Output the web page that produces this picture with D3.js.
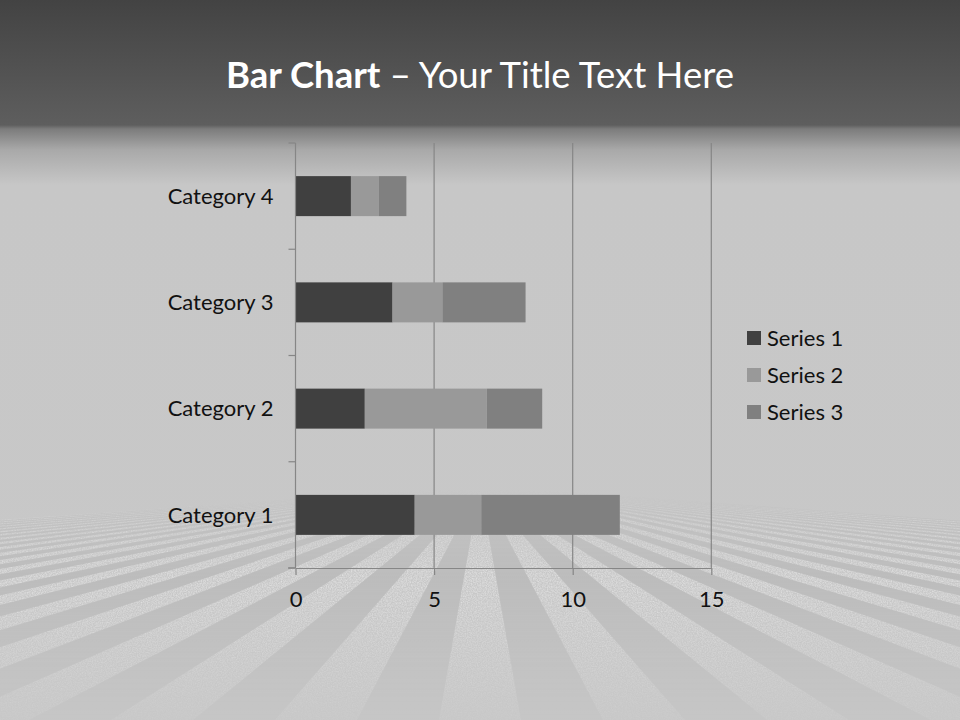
<!DOCTYPE html>
<html><head><meta charset="utf-8">
<script src="https://cdn.jsdelivr.net/npm/d3@7"></script>
<style>html,body{margin:0;padding:0;background:#c8c8c8;}svg{display:block;}</style>
</head><body>
<svg id="chart" width="960" height="720"></svg>
<script>
const categories = ["Category 1", "Category 2", "Category 3", "Category 4"];
const seriesNames = ["Series 1", "Series 2", "Series 3"];
const series1 = [4.3, 2.5, 3.5, 2];
const series2 = [2.4, 4.4, 1.8, 1];
const series3 = [5, 2, 3, 1];
const xTicks = [0, 5, 10, 15];
const colors = ["#404040", "#999999", "#808080"];

const W = 960, H = 720;
const svg = d3.select("#chart");
const defs = svg.append("defs");

// background gradient
const bg = defs.append("linearGradient").attr("id","bg").attr("x1",0).attr("y1",0).attr("x2",0).attr("y2",1);
[[0,"#434343"],[125/720,"#5e5e5e"],[129/720,"#7c7c7c"],[150/720,"#a9a9a9"],[185/720,"#c7c7c7"],[1,"#c8c8c8"]]
  .forEach(([o,c])=>bg.append("stop").attr("offset",o).attr("stop-color",c));
svg.append("rect").attr("width",W).attr("height",H).attr("fill","url(#bg)");

// rays fade mask
const mg = defs.append("linearGradient").attr("id","fade")
  .attr("gradientUnits","userSpaceOnUse").attr("x1",0).attr("y1",490).attr("x2",0).attr("y2",720);
[[0,0],[0.13,0.45],[0.38,0.9],[0.65,0.55],[1,0.12]].forEach(([o,a])=>mg.append("stop").attr("offset",o).attr("stop-color","#fff").attr("stop-opacity",a));
defs.append("mask").attr("id","rayMask").append("rect").attr("x",0).attr("y",490).attr("width",W).attr("height",230).attr("fill","url(#fade)");
const flt = defs.append("filter").attr("id","grain").attr("x",0).attr("y",0).attr("width",1).attr("height",1);
flt.append("feTurbulence").attr("type","fractalNoise").attr("baseFrequency",0.8).attr("numOctaves",2).attr("seed",3).attr("result","n");
flt.append("feColorMatrix").attr("in","n").attr("type","matrix")
  .attr("values","0 0 0 0 1  0 0 0 0 1  0 0 0 0 1  0 0 0 -1.4 1.0").attr("result","m");
flt.append("feComposite").attr("in","SourceGraphic").attr("in2","m").attr("operator","in");

const rays = svg.append("g").attr("mask","url(#rayMask)");
const vx = 480, vy = 486, stripe = 82;
for (let i = -40; i < 40; i++) {
  const xa = vx - stripe/2 + i*stripe, xb = xa + stripe;
  rays.append("path")
    .attr("d", `M${vx},${vy}L${xa},${H}L${xb},${H}Z`)
    .attr("fill", i % 2 === 0 ? "#ebebeb" : "#b0b0b0")
    .attr("opacity", i % 2 === 0 ? 0.95 : 0.55)
    .attr("filter", i % 2 === 0 ? "url(#grain)" : null);
}

const font = "Lato, 'Open Sans', sans-serif";

// title
const title = svg.append("text").attr("x",480).attr("y",88).attr("text-anchor","middle")
  .attr("fill","#ffffff").style("font-family",font).style("font-size","36.5px");
title.append("tspan").attr("font-weight","bold").text("Bar Chart");
title.append("tspan").attr("font-weight","normal").text(" \u2013 Your Title Text Here");

// scales
const x = d3.scaleLinear().domain([0,15]).range([295.5, 711.3]);
const y = d3.scaleBand().domain(categories.slice().reverse()).range([143, 568]).paddingInner(0.6235).paddingOuter(0.31175);

const axisColor = "#868686";

// gridlines
svg.append("g").selectAll("line").data(xTicks.filter(d=>d>0)).join("line")
  .attr("x1",d=>x(d)).attr("x2",d=>x(d)).attr("y1",143).attr("y2",568)
  .attr("stroke",axisColor).attr("stroke-width",1.2);

// stacked bars
const rows = categories.map((c,i)=>({cat:c, "Series 1":series1[i], "Series 2":series2[i], "Series 3":series3[i]}));
const stacked = d3.stack().keys(seriesNames)(rows);
svg.append("g").selectAll("g").data(stacked).join("g").attr("fill",(d,i)=>colors[i])
  .selectAll("rect").data(d=>d).join("rect")
  .attr("x",d=>x(d[0])).attr("width",d=>x(d[1])-x(d[0]))
  .attr("y",d=>y(d.data.cat)).attr("height",y.bandwidth());

// y axis
const yAxisG = svg.append("g").attr("transform","translate(295.5,0)");
yAxisG.append("line").attr("x1",0).attr("x2",0).attr("y1",143).attr("y2",568).attr("stroke",axisColor).attr("stroke-width",1.2);
const bounds = [143, ...categories.slice().reverse().map(c=>y(c)+y.bandwidth()+ (y.step()-y.bandwidth())/2)];
yAxisG.selectAll("line.t").data(bounds).join("line").attr("class","t")
  .attr("x1",-7).attr("x2",0).attr("y1",d=>d).attr("y2",d=>d).attr("stroke",axisColor).attr("stroke-width",1.2);
yAxisG.selectAll("text").data(categories).join("text")
  .attr("x",-22).attr("y",d=>y(d)+y.bandwidth()/2).attr("dy","0.35em")
  .attr("text-anchor","end").attr("fill","#111")
  .style("font-family",font).style("font-size","22px").text(d=>d);

// x axis
const xAxis = d3.axisBottom(x).tickValues(xTicks).tickSize(7).tickSizeOuter(0).tickPadding(16);
const xg = svg.append("g").attr("transform","translate(0,568)").call(xAxis);
xg.select(".domain").attr("stroke",axisColor).attr("stroke-width",1.2);
xg.selectAll(".tick line").attr("stroke",axisColor).attr("stroke-width",1.2);
xg.selectAll(".tick text").attr("fill","#111").style("font-family",font).style("font-size","22px");
xg.append("line").attr("x1",288).attr("x2",295.5).attr("y1",0).attr("y2",0).attr("stroke",axisColor).attr("stroke-width",1.2);

// legend
const lg = svg.append("g").attr("transform","translate(747,0)");
const ly = [338, 375, 412];
seriesNames.forEach((s,i)=>{
  lg.append("rect").attr("x",0).attr("y",ly[i]-7).attr("width",14).attr("height",14).attr("fill",colors[i]);
  lg.append("text").attr("x",20).attr("y",ly[i]).attr("dy","0.35em").attr("fill","#111")
    .style("font-family",font).style("font-size","22px").text(s);
});
</script>
</body></html>
